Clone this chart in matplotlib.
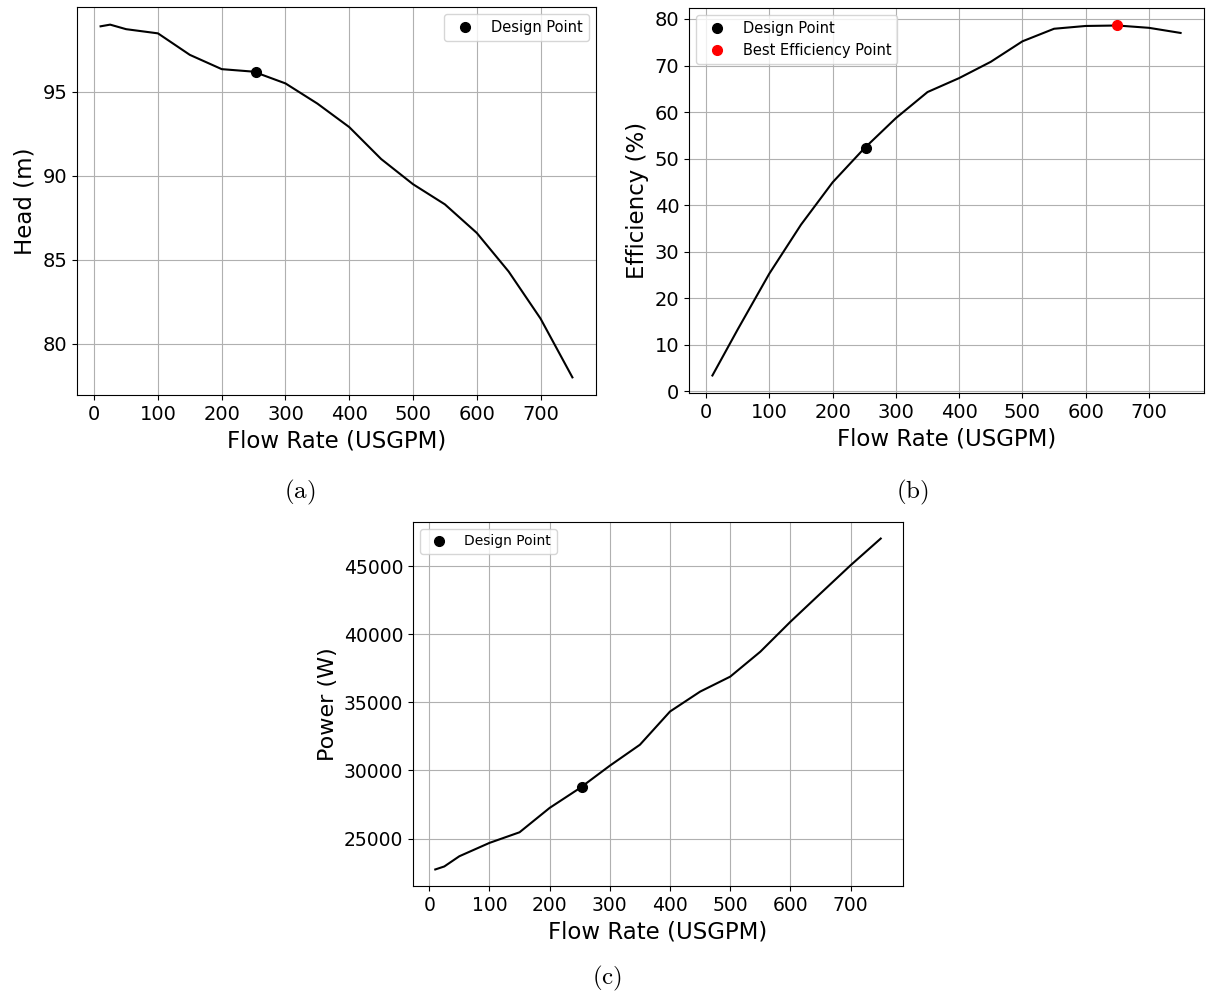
import matplotlib
matplotlib.use("Agg")
import matplotlib.pyplot as plt

# ---- data ----
head_flow = [10, 25, 50, 100, 150, 200, 250, 300, 350, 400, 450, 500, 550, 600, 650, 700, 750]
head_vals = [98.9, 99.0, 98.73, 98.48, 97.2, 96.35, 96.2, 95.5, 94.3, 92.9, 91.0, 89.5, 88.3, 86.6, 84.3, 81.5, 78.0]

eff_flow = [10, 50, 100, 150, 200, 250, 300, 350, 400, 450, 500, 550, 600, 650, 700, 750]
eff_vals = [3.4, 13.3, 25.3, 35.8, 44.9, 52.2, 58.7, 64.3, 67.3, 70.8, 75.2, 77.9, 78.5, 78.6, 78.1, 77.0]

pow_flow = [10, 25, 50, 100, 150, 200, 250, 300, 350, 400, 450, 500, 550, 600, 650, 700, 750]
pow_vals = [22730, 22950, 23700, 24680, 25460, 27250, 28700, 30350, 31890, 34330, 35790, 36890, 38720, 40920, 43000, 45070, 47030]

design_flow = 253
design_head = 96.2
design_eff = 52.3
design_power = 28780
bep_flow = 650
bep_eff = 78.6

xlabel = "Flow Rate (USGPM)"
captions = ["(a)", "(b)", "(c)"]

W, H = 1209, 996
fig = plt.figure(figsize=(W / 100, H / 100), dpi=100)

def px_axes(l, t, r, b):
    return fig.add_axes([l / W, 1 - b / H, (r - l) / W, (b - t) / H])

TICK = 14
LAB = 16.5
LEG = 10.5

def style(ax, tick=TICK):
    ax.grid(True, color="#b0b0b0", linewidth=0.8)
    ax.tick_params(labelsize=tick)
    ax.set_xlabel(xlabel, fontsize=LAB)
    ax.set_xticks(range(0, 800, 100))

# (a)
ax1 = px_axes(77, 7, 596, 395)
ax1.plot(head_flow, head_vals, color="black", linewidth=1.5)
ax1.plot([design_flow], [design_head], "o", color="black", markersize=7, label="Design Point")
ax1.set_ylabel("Head (m)", fontsize=LAB)
ax1.set_yticks([80, 85, 90, 95])
style(ax1)
ax1.legend(loc="upper right", fontsize=LEG)

# (b)
ax2 = px_axes(689, 8, 1204, 393)
ax2.plot(eff_flow, eff_vals, color="black", linewidth=1.5)
ax2.plot([design_flow], [design_eff], "o", color="black", markersize=7, label="Design Point")
ax2.plot([bep_flow], [bep_eff], "o", color="red", markersize=7, label="Best Efficiency Point")
ax2.set_ylabel("Efficiency (%)", fontsize=LAB)
ax2.set_yticks(range(0, 90, 10))
style(ax2)
ax2.legend(loc="upper left", fontsize=LEG)

# (c)
ax3 = px_axes(413, 522, 903, 886)
ax3.plot(pow_flow, pow_vals, color="black", linewidth=1.5)
ax3.plot([design_flow], [design_power], "o", color="black", markersize=7, label="Design Point")
ax3.set_ylabel("Power (W)", fontsize=LAB - 0.5)
ax3.set_yticks([25000, 30000, 35000, 40000, 45000])
style(ax3, tick=13.5)
ax3.legend(loc="upper left", fontsize=LEG - 0.5)

plt.rcParams["mathtext.fontset"] = "cm"
cap_pos = [(300, 492), (912, 492), (607, 978)]
for (x, y), c in zip(cap_pos, captions):
    fig.text(x / W, 1 - y / H, r"$\mathrm{" + c + "}$", fontsize=18,
             ha="center", va="center")

fig.savefig("out.png", dpi=100)
